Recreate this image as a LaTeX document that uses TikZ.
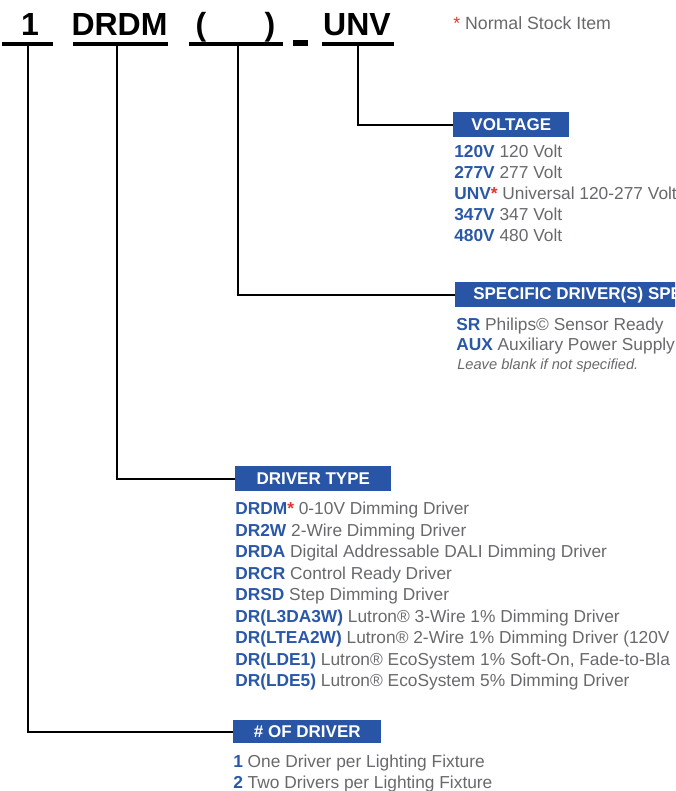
\documentclass[tikz,border=0pt]{standalone}
\usepackage{fontspec}
\setmainfont{Liberation Sans}
\usepackage{xcolor}
\usetikzlibrary{positioning, calc}
\definecolor{hdrblue}{RGB}{40,85,165}
\definecolor{codeblue}{RGB}{42,88,168}
\definecolor{txtgray}{RGB}{104,105,108}
\definecolor{starred}{RGB}{232,50,50}
\newcommand{\stk}{\textcolor{starred}{*}}
\tikzset{
  partbar/.style={rectangle, fill=black, inner sep=0pt, minimum height=3pt},
  parttext/.style={anchor=base, inner sep=0pt,
    font=\fontsize{24}{28}\selectfont\bfseries},
  hdrbox/.style={rectangle, fill=hdrblue, text=white, anchor=north west,
    inner sep=0pt, minimum height=18.75pt,
    font=\fontsize{12.75}{15}\selectfont\bfseries},
  item/.style={anchor=base west, inner sep=0pt, text=txtgray,
    font=\fontsize{13}{15}\selectfont},
  note/.style={anchor=base west, inner sep=0pt, text=txtgray,
    font=\fontsize{11}{13}\selectfont\itshape},
  conn/.style={line width=1.5pt, color=black}
}
\begin{document}
\begin{tikzpicture}[x=0.75pt, y=-0.75pt]
  \clip (0,0) rectangle (675,791);

  % part number
  \node[partbar, minimum width=38.25pt] (qtybar) at (27.5,44) {};
  \node[partbar, minimum width=71.25pt] (typebar) at (120.5,44) {};
  \node[partbar, minimum width=70.5pt] (specbar) at (236,44) {};
  \node[partbar, minimum width=54pt] (voltbar) at (358,44) {};
  \node[rectangle, fill=black, inner sep=0pt, minimum width=11.25pt,
    minimum height=4.5pt] (dash) at (300.5,43) {};
  \node[parttext] (qty) at (30,36) {1};
  \node[parttext] (type) at (119.5,36) {DRDM};
  \node[parttext] (lpar) at (201,36) {(};
  \node[parttext] (rpar) at (270,36) {)};
  \node[parttext] (volt) at (357,36) {UNV};
  \node[item, font=\fontsize{13.3}{16}\selectfont] (stock) at (453,30) {\stk\ Normal Stock Item};

  % headers
  \node[hdrbox, minimum width=87pt] (voltbox) at (453,112) {VOLTAGE};
  \node[hdrbox, inner xsep=13.5pt] (specbox) at (455,282) {SPECIFIC DRIVER(S) SPE};
  \node[hdrbox, minimum width=117pt] (typebox) at (235,466) {DRIVER TYPE};
  \node[hdrbox, minimum width=111pt, minimum height=17.25pt] (qtybox) at (233,720) {\# OF DRIVER};

  \draw[conn] (voltbar.south) |- (voltbox.west);
  \draw[conn] ([xshift=1.5pt]specbar.south) |- (specbox.west);
  \draw[conn] ([xshift=-2.6pt]typebar.south) |- (typebox.west);
  \draw[conn] (qtybar.south) |- (qtybox.west);

  % options
  \foreach \code/\desc [count=\i] in {120V/120 Volt, 277V/277 Volt,
      UNV\stk/Universal 120-277 Volt, 347V/347 Volt, 480V/480 Volt}
    \node[item] (volt\i) at ($(voltbox.south west)+(1,{20+21*(\i-1)})$)
      {\textcolor{codeblue}{\bfseries\code} \desc};

  \foreach \code/\desc [count=\i] in {SR/Philips© Sensor Ready,
      AUX/Auxiliary Power Supply}
    \node[item] (spec\i) at ($(specbox.south west)+(1,{23+20*(\i-1)})$)
      {\textcolor{codeblue}{\bfseries\code} \desc};
  \node[note] (specnote) at ($(specbox.south west)+(2,62)$) {Leave blank if not specified.};

  \foreach \code/\desc [count=\i] in {DRDM\stk/0-10V Dimming Driver,
      DR2W/2-Wire Dimming Driver,
      DRDA/Digital Addressable DALI Dimming Driver,
      DRCR/Control Ready Driver,
      DRSD/Step Dimming Driver,
      DR(L3DA3W)/Lutron® 3-Wire 1\% Dimming Driver,
      DR(LTEA2W)/Lutron® 2-Wire 1\% Dimming Driver (120V,
      DR(LDE1)/{Lutron® EcoSystem 1\% Soft-On, Fade-to-Bla},
      DR(LDE5)/Lutron® EcoSystem 5\% Dimming Driver}
    \node[item] (type\i) at ($(typebox.south west)+(0,{23+21.5*(\i-1)})$)
      {\textcolor{codeblue}{\bfseries\code} \desc};

  \foreach \code/\desc [count=\i] in {1/One Driver per Lighting Fixture,
      2/Two Drivers per Lighting Fixture}
    \node[item] (qty\i) at ($(qtybox.south west)+(0,{24+20.5*(\i-1)})$)
      {\textcolor{codeblue}{\bfseries\code} \desc};
\end{tikzpicture}
\end{document}
